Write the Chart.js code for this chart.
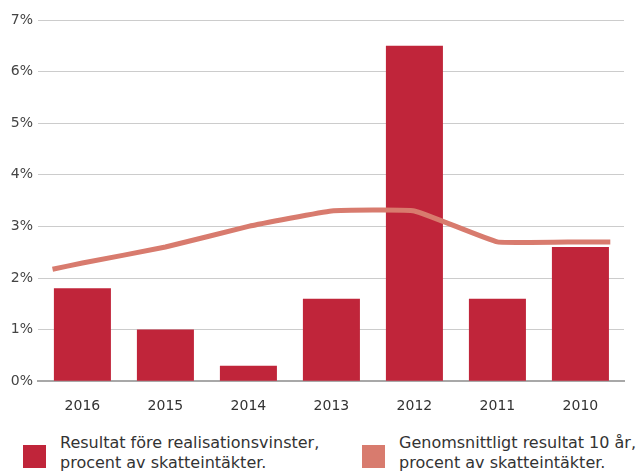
<!DOCTYPE html>
<html>
<head>
<meta charset="utf-8">
<script src="https://cdn.jsdelivr.net/npm/chart.js@4"></script>
<style>
  body { margin: 0; background: #fff; font-family: "DejaVu Sans", sans-serif; }
  #wrap { position: relative; width: 637px; height: 474px; }
  #chart-box { position: absolute; left: 0; top: 0; width: 637px; height: 424px; }
  .legend-item { position: absolute; top: 433px; }
  .swatch { position: absolute; left: 0; top: 12px; width: 23px; height: 23px; }
  .legend-text { position: absolute; top: 0; white-space: nowrap; font-size: 16px; line-height: 20px; color: #333; }
</style>
</head>
<body>
<div id="wrap">
  <div id="chart-box"><canvas id="chart"></canvas></div>
  <div class="legend-item" style="left:23px">
    <div class="swatch" style="background:#c0253a"></div>
    <div class="legend-text" style="left:37px">Resultat före realisationsvinster,<br>procent av skatteintäkter.</div>
  </div>
  <div class="legend-item" style="left:362px">
    <div class="swatch" style="background:#d87b6e"></div>
    <div class="legend-text" style="left:37px">Genomsnittligt resultat 10 år,<br>procent av skatteintäkter.</div>
  </div>
</div>
<script>
const years = ["2016", "2015", "2014", "2013", "2012", "2011", "2010"];
const resultValues = [1.8, 1.0, 0.3, 1.6, 6.5, 1.6, 2.6];
const averageValues = [2.29, 2.6, 3.0, 3.3, 3.3, 2.7, 2.7];
// the average line runs on past the outer bars, to their outer edges
const averageStart = 2.17;
const averageEnd = 2.7;
const yTicks = [0, 1, 2, 3, 4, 5, 6, 7];

const BAR_COLOR = "#c0253a";
const LINE_COLOR = "#d87b6e";
const EDGE = 0.36; // how far the line sticks out past the first/last year

const barPoints = resultValues.map((v, i) => ({ x: i, y: v }));
const linePoints = [{ x: -EDGE, y: averageStart }]
  .concat(averageValues.map((v, i) => ({ x: i, y: v })))
  .concat([{ x: years.length - 1 + EDGE, y: averageEnd }]);

new Chart(document.getElementById("chart"), {
  data: {
    datasets: [
      {
        type: "line",
        data: linePoints,
        borderColor: LINE_COLOR,
        borderWidth: 5,
        pointRadius: 0,
        tension: 0.1,
        order: 0,
      },
      {
        type: "bar",
        data: barPoints,
        backgroundColor: BAR_COLOR,
        categoryPercentage: 1,
        barPercentage: 0.687,
        order: 1,
      },
    ],
  },
  options: {
    responsive: true,
    maintainAspectRatio: false,
    animation: false,
    layout: { padding: { top: 20, right: 13, bottom: 0, left: 0 } },
    plugins: { legend: { display: false }, tooltip: { enabled: false } },
    scales: {
      x: {
        type: "linear",
        offset: false,
        bounds: "data",
        min: -0.535,
        max: years.length - 1 + 0.525,
        afterBuildTicks: (scale) => { scale.ticks = years.map((y, i) => ({ value: i })); },
        grid: { display: false, offset: false },
        border: { display: true, color: "#a8a8a8", width: 2 },
        ticks: {
          color: "#333",
          font: { size: 14, family: "DejaVu Sans" },
          padding: 9,
          autoSkip: false,
          maxRotation: 0,
          callback: (v) => years[v],
        },
      },
      y: {
        min: 0,
        max: 7,
        afterFit: (scale) => { scale.width = 38; },
        afterBuildTicks: (scale) => { scale.ticks = yTicks.map((v) => ({ value: v })); },
        grid: { color: "#cccccc", lineWidth: 1, drawTicks: false },
        border: { display: false },
        ticks: {
          color: "#444",
          font: { size: 14, family: "DejaVu Sans" },
          padding: 5,
          callback: (v) => v + "%",
        },
      },
    },
  },
});
</script>
</body>
</html>
